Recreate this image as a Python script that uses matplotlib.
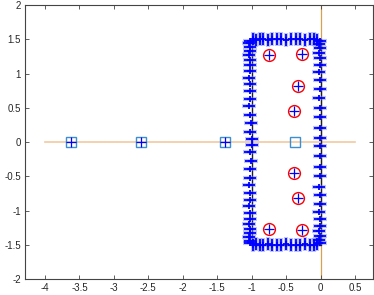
import matplotlib
matplotlib.use("Agg")
import matplotlib.pyplot as plt

plt.rcParams['font.family'] = ['Liberation Sans', 'DejaVu Sans']

# real axis / imaginary axis guide lines
real_axis_x = [-4.0, 0.5]
real_axis_y = [0.0, 0.0]
imag_axis_x = [0.0, 0.0]
imag_axis_y = [-2.0, 2.0]

# open squares on the real axis
sq_x = [-3.62, -2.6, -1.38, -0.37]
sq_y = [0.0, 0.0, 0.0, 0.0]

# red circles (complex roots)
circ_x = [-0.75, -0.27, -0.33, -0.38, -0.38, -0.33, -0.75, -0.27]
circ_y = [1.27, 1.28, 0.82, 0.45, -0.45, -0.82, -1.27, -1.28]

# plus markers on real axis
pr_x = [-3.62, -2.6, -1.38]
pr_y = [0.0, 0.0, 0.0]

# contour outline (rectangle)
cont_x = [-1.0, -1.0, 0.0, 0.0, -1.0]
cont_y = [-1.5, 1.5, 1.5, -1.5, -1.5]

# plus markers along the contour
left_y = [1.48, 1.44, 1.39, 1.33, 1.27, 1.2, 1.12, 1.03, 0.94, 0.85, 0.75, 0.63, 0.52,
          0.4, 0.28, 0.15, 0.05, -0.05, -0.15, -0.28, -0.4, -0.52, -0.63, -0.75, -0.85,
          -0.94, -1.03, -1.12, -1.2, -1.27, -1.33, -1.39, -1.44, -1.48]
left_x = [-1.02, -1.04, -1.03, -1.02, -1.04, -1.03, -1.02, -1.03, -1.04, -1.02, -1.03,
          -1.02, -1.04, -1.03, -1.01, -1.02, -1.0, -1.0, -1.02, -1.01, -1.03, -1.02,
          -1.04, -1.03, -1.02, -1.04, -1.03, -1.02, -1.04, -1.03, -1.02, -1.04, -1.03, -1.02]
right_y = [1.48, 1.43, 1.37, 1.3, 1.22, 1.13, 1.02, 0.9, 0.78, 0.65, 0.5, 0.36, 0.2,
           0.06, -0.06, -0.2, -0.36, -0.5, -0.65, -0.78, -0.9, -1.02, -1.13, -1.22,
           -1.3, -1.37, -1.43, -1.48]
right_x = [-0.01, -0.02, -0.01, -0.02, -0.01, -0.01, -0.02, -0.01, -0.01, -0.02, -0.01,
           -0.01, -0.01, -0.01, -0.01, -0.01, -0.01, -0.01, -0.02, -0.01, -0.01, -0.02,
           -0.01, -0.01, -0.02, -0.01, -0.02, -0.01]
top_x = [-0.98, -0.93, -0.88, -0.83, -0.76, -0.7, -0.63, -0.57, -0.5, -0.43, -0.36,
         -0.3, -0.23, -0.16, -0.1, -0.05]
top_y = [1.5, 1.49, 1.51, 1.5, 1.49, 1.5, 1.51, 1.5, 1.49, 1.5, 1.5, 1.51, 1.49, 1.5, 1.5, 1.49]
bot_x = [-0.98, -0.93, -0.88, -0.83, -0.76, -0.7, -0.63, -0.57, -0.5, -0.43, -0.36,
         -0.3, -0.23, -0.16, -0.1, -0.05]
bot_y = [-1.5, -1.49, -1.51, -1.5, -1.49, -1.5, -1.51, -1.5, -1.49, -1.5, -1.5, -1.51,
         -1.49, -1.5, -1.5, -1.49]

xticks = [-4, -3.5, -3, -2.5, -2, -1.5, -1, -0.5, 0, 0.5]
xticklabels = ['-4', '-3.5', '-3', '-2.5', '-2', '-1.5', '-1', '-0.5', '0', '0.5']
yticks = [-2, -1.5, -1, -0.5, 0, 0.5, 1, 1.5, 2]
yticklabels = ['-2', '-1.5', '-1', '-0.5', '0', '0.5', '1', '1.5', '2']

fig = plt.figure(figsize=(3.74, 2.95), dpi=100)
ax = fig.add_axes([0.067, 0.054, 0.93, 0.929])

ax.plot(real_axis_x, real_axis_y, color='#f2c9a0', lw=1.2, zorder=1)
ax.plot(imag_axis_x, imag_axis_y, color='#d9a050', lw=0.9, zorder=1)

ax.plot(cont_x, cont_y, color='#222222', lw=1.0, zorder=2)

side_x = left_x + right_x
side_y = left_y + right_y
tb_x = top_x + bot_x
tb_y = top_y + bot_y
# soft halo
ax.plot(side_x, side_y, linestyle='none', marker='_', ms=10, mew=3.0,
        color='#6f7fff', alpha=0.45, zorder=3)
ax.plot(tb_x, tb_y, linestyle='none', marker='|', ms=10, mew=3.0,
        color='#6f7fff', alpha=0.45, zorder=3)
# crisp arms
ax.plot(side_x, side_y, linestyle='none', marker='_', ms=9, mew=1.3,
        color='#0000ff', zorder=4)
ax.plot(tb_x, tb_y, linestyle='none', marker='|', ms=9, mew=1.3,
        color='#0000ff', zorder=4)
ax.plot(side_x + tb_x, side_y + tb_y, linestyle='none', marker='+', ms=5, mew=1.3,
        color='#0000ff', zorder=4)

ax.plot(sq_x, sq_y, linestyle='none', marker='s', ms=6.5, mfc='none',
        mec='#3d8fd0', mew=1.0, zorder=5)
ax.plot(circ_x, circ_y, linestyle='none', marker='o', ms=8.5, mfc='none',
        mec='#ff0000', mew=1.0, zorder=5)
ax.plot(circ_x + pr_x, circ_y + pr_y, linestyle='none', marker='+', ms=7.5,
        mew=0.9, color='#0000ff', zorder=6)

ax.set_xlim(-4.29, 0.76)
ax.set_ylim(-2, 2)
ax.set_xticks(xticks)
ax.set_xticklabels(xticklabels)
ax.set_yticks(yticks)
ax.set_yticklabels(yticklabels)
ax.tick_params(direction='in', length=3, width=0.6, colors='#444444',
               labelcolor='#262626', labelsize=7, top=True, right=True, pad=3)
for s in ax.spines.values():
    s.set_color('#444444')
    s.set_linewidth(0.8)

fig.savefig('out.png', dpi=100)
